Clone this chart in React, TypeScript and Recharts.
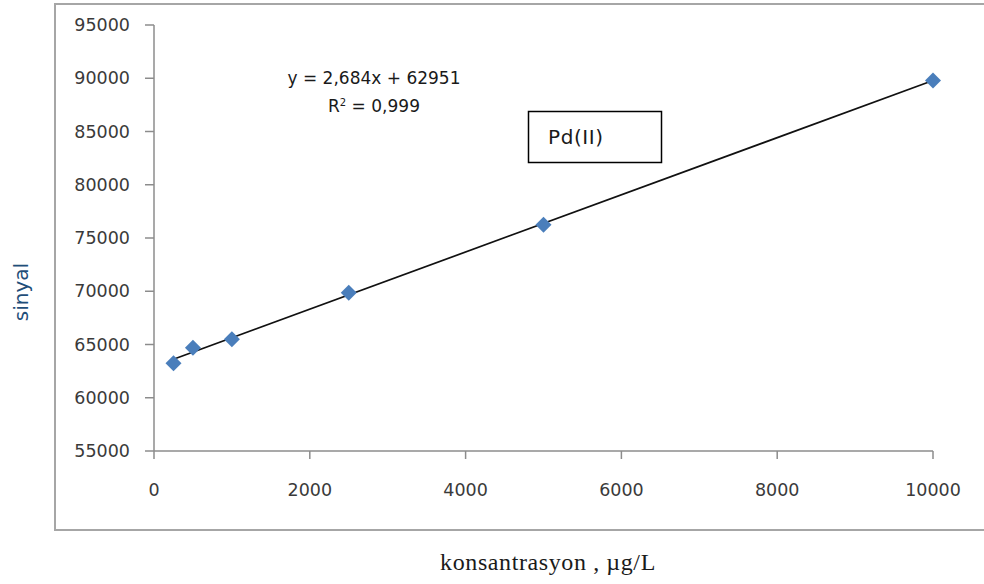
import { Scatter, ScatterChart, XAxis, YAxis } from "recharts";

// Pd(II) calibration: concentration (µg/L) vs signal
const concentrations = [250, 500, 1000, 2500, 5000, 10000];
const signals = [63250, 64700, 65500, 69850, 76250, 89800];

const xTicks = [0, 2000, 4000, 6000, 8000, 10000];
const yTicks = [55000, 60000, 65000, 70000, 75000, 80000, 85000, 90000, 95000];

// linear fit reported on the chart
const slope = 2.684;
const intercept = 62951;
const fitLabel = "y = 2,684x + 62951";
const r2Label = "0,999";

const points = concentrations.map((x, i) => ({ x, y: signals[i] }));
const fitRange = [concentrations[0], concentrations[concentrations.length - 1]];
const fitLine = fitRange.map((x) => ({ x, y: slope * x + intercept }));

const W = 984;
const H = 584;
const axisColor = "#8c8c8c";
const tickStyle = { fontSize: 17.5, fill: "#3a3a3a", fontFamily: "DejaVu Sans" };

function Diamond(props: { cx?: number; cy?: number }) {
  const { cx = 0, cy = 0 } = props;
  const r = 8;
  return (
    <polygon
      points={`${cx},${cy - r} ${cx + r},${cy} ${cx},${cy + r} ${cx - r},${cy}`}
      fill="#4a7ebb"
    />
  );
}

export default function App() {
  return (
    <div style={{ position: "absolute", left: 0, top: 0, width: W, height: H, background: "#fff", overflow: "hidden" }}>
      {/* chart frame, open on the right */}
      <div
        style={{
          position: "absolute",
          left: 54,
          top: 3,
          width: 1000,
          height: 524,
          borderLeft: "2px solid #a6a6a6",
          borderTop: "2px solid #a6a6a6",
          borderBottom: "2px solid #a6a6a6",
        }}
      />
      <div style={{ position: "absolute", left: 0, top: 0 }}>
        <ScatterChart width={W} height={H} margin={{ top: 25, right: 51, bottom: 0, left: 0 }}>
          <XAxis
            type="number"
            dataKey="x"
            domain={[0, 10000]}
            ticks={xTicks}
            height={133}
            tickSize={8}
            tickMargin={25}
            stroke={axisColor}
            strokeWidth={1.5}
            tick={tickStyle}
          />
          <YAxis
            type="number"
            dataKey="y"
            domain={[55000, 95000]}
            ticks={yTicks}
            width={154}
            tickSize={9}
            tickMargin={15}
            stroke={axisColor}
            strokeWidth={1.5}
            tick={tickStyle}
          />
          <Scatter
            data={fitLine}
            line={{ stroke: "#111", strokeWidth: 1.7 }}
            shape={() => <g />}
            legendType="none"
            isAnimationActive={false}
          />
          <Scatter data={points} shape={<Diamond />} isAnimationActive={false} />
        </ScatterChart>
      </div>
      <svg width={W} height={H} style={{ position: "absolute", left: 0, top: 0, pointerEvents: "none" }}>
        <text x={374} y={84} textAnchor="middle" fontFamily="DejaVu Sans" fontSize={17} fill="#1a1a1a">
          {fitLabel}
        </text>
        <text x={374} y={112} textAnchor="middle" fontFamily="DejaVu Sans" fontSize={17} fill="#1a1a1a">
          R<tspan dy={-6} fontSize={10}>2</tspan>
          <tspan dy={6}> = {r2Label}</tspan>
        </text>
        <rect x={528.5} y={111.5} width={133} height={51} fill="#fff" stroke="#000" strokeWidth={1.5} />
        <text x={548} y={144} fontFamily="DejaVu Sans" fontSize={20} letterSpacing={0.6} fill="#1a1a1a">
          Pd(II)
        </text>
        <text
          x={28}
          y={292}
          transform="rotate(-90 28 292)"
          textAnchor="middle"
          fontFamily="DejaVu Sans"
          fontSize={20}
          fill="#1f4e79"
        >
          sinyal
        </text>
        <text
          x={548}
          y={570}
          textAnchor="middle"
          fontFamily="Liberation Serif"
          fontSize={24}
          letterSpacing={0.6}
          fill="#1a1a1a"
        >
          konsantrasyon , µg/L
        </text>
      </svg>
    </div>
  );
}
